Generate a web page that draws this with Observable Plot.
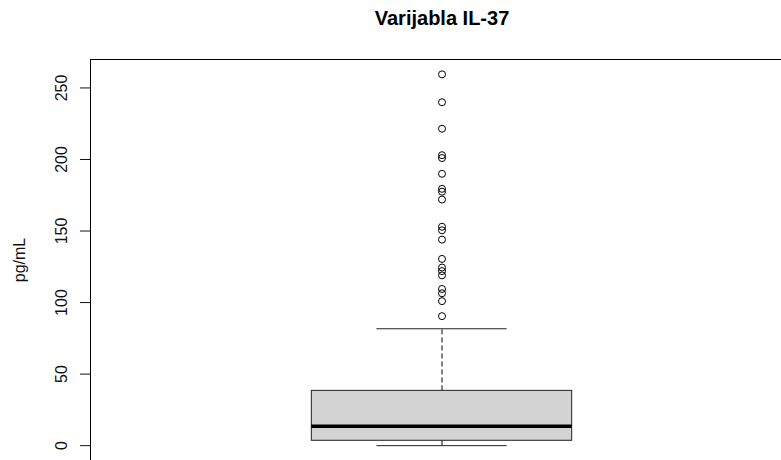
<!DOCTYPE html>
<html>
<head>
<meta charset="utf-8">
<script src="https://cdn.jsdelivr.net/npm/d3@7"></script>
<script src="https://cdn.jsdelivr.net/npm/@observablehq/plot@0.6"></script>
<style>
  html, body { margin: 0; padding: 0; background: #fff; overflow: hidden; }
  #chart { width: 781px; height: 460px; overflow: hidden; }
</style>
</head>
<body>
<div id="chart"></div>
<script>
// Box statistics (pg/mL): lower whisker, Q1, median, Q3, upper whisker
const statNames = ["min", "q1", "median", "q3", "max"];
const statValues = [0, 3.4, 13.5, 38.3, 81.7];
// Outliers (pg/mL)
const outliers = [259.5, 240, 221.5, 203, 201, 190, 179.5, 177.5, 172, 153, 150.5, 144, 130.5, 124.5, 122, 119, 109.5, 106.5, 101, 90.5];
// Axis ticks
const yTicks = [0, 50, 100, 150, 200, 250];
const title = "Varijabla IL-37";
const yLabel = "pg/mL";

const s = Object.fromEntries(statNames.map((k, i) => [k, statValues[i]]));
const box = [{x: 1, ...s}];
const pts = outliers.map(v => ({x: 1, v}));

// R-style axis extension (4%)
const ymax = Math.max(...outliers), ymin = s.min;
const pad = (ymax - ymin) * 0.04;

const chart = Plot.plot({
  width: 781,
  height: 460,
  marginTop: 59,
  marginLeft: 90,
  marginRight: -12,
  marginBottom: 0,
  style: {fontFamily: "'Liberation Sans', Arial, sans-serif", background: "#fff", overflow: "hidden"},
  x: {domain: [0.46, 1.54], axis: null},
  y: {domain: [ymin - pad, ymax + pad]},
  marks: [
    // whiskers (dashed)
    Plot.ruleX(box, {x: "x", y1: "q3", y2: "max", stroke: "black", strokeWidth: 1, strokeDasharray: "5,3"}),
    Plot.ruleX(box, {x: "x", y1: "min", y2: "q1", stroke: "black", strokeWidth: 1, strokeDasharray: "5,3"}),
    // whisker caps
    Plot.ruleY(box, {y: "max", x1: d => d.x - 0.1, x2: d => d.x + 0.1, stroke: "#222", strokeWidth: 1}),
    Plot.ruleY(box, {y: "min", x1: d => d.x - 0.1, x2: d => d.x + 0.1, stroke: "#222", strokeWidth: 1}),
    // box
    Plot.rect(box, {x1: d => d.x - 0.2, x2: d => d.x + 0.2, y1: "q1", y2: "q3", fill: "#d3d3d3", stroke: "#222", strokeWidth: 1}),
    // median
    Plot.ruleY(box, {y: "median", x1: d => d.x - 0.2, x2: d => d.x + 0.2, stroke: "black", strokeWidth: 3.5}),
    // outliers
    Plot.dot(pts, {x: "x", y: "v", r: 3.5, stroke: "black", fill: "none", strokeWidth: 1}),
    // axis
    Plot.axisY({
      ticks: yTicks,
      tickSize: 10,
      tickPadding: 14,
      tickRotate: -90,
      fontSize: 16,
      label: yLabel,
      labelAnchor: "center",
      labelArrow: "none",
      labelOffset: 77,
      color: "#111"
    }),
    Plot.frame({stroke: "black", strokeWidth: 1}),
    Plot.text([title], {frameAnchor: "top", lineAnchor: "middle", dy: -41, fontSize: 20, fontWeight: "bold", fill: "black"})
  ]
});
document.getElementById("chart").appendChild(chart);
</script>
</body>
</html>
